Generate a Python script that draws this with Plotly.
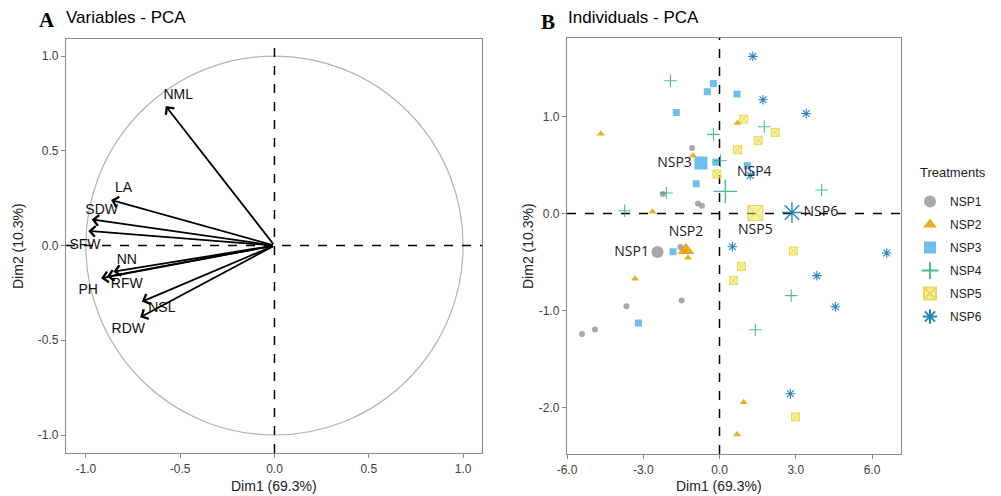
import plotly.graph_objects as go

# ---------------- Panel A: variables ----------------
variables = ["NML", "LA", "SDW", "SFW", "NN", "RFW", "PH", "NSL", "RDW"]
var_dim1 = [-0.576, -0.866, -0.969, -0.987, -0.854, -0.889, -0.919, -0.703, -0.712]
var_dim2 = [0.736, 0.240, 0.138, 0.077, -0.138, -0.165, -0.173, -0.296, -0.379]
var_label_x = [-0.51, -0.80, -0.916, -1.004, -0.783, -0.783, -0.987, -0.597, -0.775]
var_label_y = [0.79, 0.30, 0.184, 0.0, -0.08, -0.208, -0.238, -0.332, -0.442]

# ---------------- Panel B: individuals ----------------
groups = ["NSP1", "NSP2", "NSP3", "NSP4", "NSP5", "NSP6"]
nsp1_x = [-1.08, -2.23, -0.85, -0.69, -1.54, -1.49, -3.66, -5.41, -4.90]
nsp1_y = [0.675, 0.20, 0.104, 0.08, -0.345, -0.896, -0.957, -1.243, -1.195]
nsp2_x = [-4.67, -1.04, -2.64, -1.24, -3.32, 0.71, 0.95, 0.69, -1.35]
nsp2_y = [0.823, 0.596, 0.019, -0.456, -0.672, 0.933, -1.947, -2.28, -0.40]
nsp3_x = [-0.24, -0.48, -1.70, 0.69, -0.15, -0.92, 1.09, -1.83, -3.19]
nsp3_y = [1.34, 1.256, 1.042, 1.232, 0.53, 0.307, 0.493, -0.394, -1.13]
nsp4_x = [-1.93, -0.24, 0.04, -2.09, -3.73, 1.76, 4.02, 2.82, 1.41]
nsp4_y = [1.369, 0.816, 0.544, 0.211, 0.029, 0.895, 0.242, -0.847, -1.198]
nsp5_x = [-0.10, 0.95, 2.19, 1.52, 0.71, 2.91, 0.86, 0.55, 2.99]
nsp5_y = [0.407, 0.974, 0.836, 0.754, 0.658, -0.387, -0.545, -0.69, -2.098]
nsp6_x = [1.31, 1.71, 3.41, 1.21, 0.51, 6.58, 3.83, 4.56, 2.79]
nsp6_y = [1.62, 1.173, 1.032, 0.393, -0.342, -0.407, -0.641, -0.961, -1.858]
centroid_x = [-2.44, -1.32, -0.73, 0.23, 1.41, 2.85]
centroid_y = [-0.397, -0.38, 0.52, 0.228, 0.005, 0.011]

x_ticks_a = [-1.0, -0.5, 0.0, 0.5, 1.0]
y_ticks_a = [-1.0, -0.5, 0.0, 0.5, 1.0]
x_ticks_b = [-6.0, -3.0, 0.0, 3.0, 6.0]
y_ticks_b = [-2.0, -1.0, 0.0, 1.0]

group_x = [nsp1_x, nsp2_x, nsp3_x, nsp4_x, nsp5_x, nsp6_x]
group_y = [nsp1_y, nsp2_y, nsp3_y, nsp4_y, nsp5_y, nsp6_y]

colors = ["#999999", "#E69F00", "#56B4E9", "#009E73", "#F0E442", "#0072B2"]
symbols = ["circle", "triangle-up", "square", "cross-thin-open", "square-x", "asterisk-open"]
small_sizes = [6, 7, 7, 9, 8, 8]
big_sizes = [12, 15, 13, 17, 15, 17]
label_pos = ["middle left", "top center", "middle left", "top right", "bottom center", "middle right"]

W, H = 1001, 496
def px_x(a, b):
    return [a / W, b / W]
def px_y(top, bottom):
    return [1 - bottom / H, 1 - top / H]

fig = go.Figure()

# Panel A arrows (annotations in data coordinates)
annotations = []
for vx, vy in zip(var_dim1, var_dim2):
    annotations.append(dict(x=vx, y=vy, ax=0, ay=0, xref="x", yref="y",
                            axref="x", ayref="y", text="", showarrow=True,
                            arrowhead=4, arrowsize=1.15, arrowwidth=1.8,
                            arrowcolor="black"))

fig.add_trace(go.Scatter(x=var_label_x, y=var_label_y, text=variables, mode="text",
                         textfont=dict(family="Liberation Sans, Arial", size=14, color="#111111"),
                         showlegend=False, hoverinfo="skip", xaxis="x", yaxis="y"))

# Panel B points
def make_marker(i, size, lw):
    sym = symbols[i]
    if sym == "cross-thin-open":
        return dict(symbol=sym, size=size, color=colors[i],
                    line=dict(color=colors[i], width=lw), opacity=0.7)
    if sym == "asterisk-open":
        return dict(symbol=sym, size=size, color=colors[i],
                    line=dict(color=colors[i], width=lw), opacity=0.85)
    if sym == "square-x":
        return dict(symbol=sym, size=size, color="rgba(240,228,66,0.55)",
                    line=dict(color="rgba(225,212,60,0.9)", width=1), opacity=0.9)
    return dict(symbol=sym, size=size, color=colors[i], line=dict(width=0), opacity=0.85)

for i, g in enumerate(groups):
    fig.add_trace(go.Scatter(x=group_x[i], y=group_y[i], mode="markers", name=g,
                             legendgroup=g,
                             marker=make_marker(i, small_sizes[i], 1.1),
                             xaxis="x2", yaxis="y2"))

for i, g in enumerate(groups):
    fig.add_trace(go.Scatter(x=[centroid_x[i]], y=[centroid_y[i]], mode="markers+text",
                             text=[g], textposition=label_pos[i], legendgroup=g,
                             textfont=dict(family="Open Sans", size=14, color="#1a1a1a"),
                             marker=make_marker(i, big_sizes[i], 1.4),
                             showlegend=False, xaxis="x2", yaxis="y2"))

# Shapes: circle and dashed zero lines
shapes = [
    dict(type="circle", xref="x", yref="y", x0=-1, y0=-1, x1=1, y1=1,
         line=dict(color="#b3b3b3", width=1.2), layer="below"),
    dict(type="line", xref="x", yref="y domain", x0=0, x1=0, y0=0, y1=1,
         line=dict(color="black", width=1.5, dash="dash")),
    dict(type="line", xref="x domain", yref="y", x0=0, x1=1, y0=0, y1=0,
         line=dict(color="black", width=1.5, dash="dash")),
    dict(type="line", xref="x2", yref="y2 domain", x0=0, x1=0, y0=0, y1=1,
         line=dict(color="black", width=1.5, dash="dash"), layer="below"),
    dict(type="line", xref="x2 domain", yref="y2", x0=0, x1=1, y0=0, y1=0,
         line=dict(color="black", width=1.5, dash="dash"), layer="below"),
]

# Panel titles and axis titles
def paper_text(text, x, y, size, family, xanchor="left", angle=0, color="black"):
    return dict(text=text, x=x / W, y=1 - y / H, xref="paper", yref="paper",
                xanchor=xanchor, yanchor="middle", showarrow=False, textangle=angle,
                font=dict(family=family, size=size, color=color))

annotations += [
    paper_text("<b>A</b>", 37, 20, 21, "Liberation Serif"),
    paper_text("Variables - PCA", 64, 18, 17, "Liberation Sans, Arial"),
    paper_text("<b>B</b>", 539, 22, 21, "Liberation Serif"),
    paper_text("Individuals - PCA", 566, 18, 17, "Liberation Sans, Arial"),
    paper_text("Dim1 (69.3%)", 274, 486, 14, "Liberation Sans, Arial", "center", color="#222222"),
    paper_text("Dim1 (69.3%)", 719, 486, 14, "Liberation Sans, Arial", "center", color="#222222"),
    paper_text("Dim2 (10.3%)", 18, 246, 14, "Liberation Sans, Arial", "center", -90, color="#222222"),
    paper_text("Dim2 (10.3%)", 528, 246, 14, "Liberation Sans, Arial", "center", -90, color="#222222"),
    paper_text("Treatments", 918, 172, 13, "Liberation Sans, Arial", color="#222222"),
]

axis_common = dict(showline=True, linecolor="#8a8a8a", linewidth=1.3, mirror=True,
                   ticks="outside", ticklen=4, tickcolor="#8a8a8a", tickwidth=1.2,
                   showgrid=False, zeroline=False, automargin=False,
                   tickfont=dict(family="Liberation Sans, Arial", size=12, color="#404040"))

fig.update_layout(
    width=W, height=H,
    margin=dict(l=0, r=0, t=0, b=0, autoexpand=False),
    paper_bgcolor="white", plot_bgcolor="white",
    xaxis=dict(domain=px_x(66, 482), range=[-1.105, 1.10], tickvals=x_ticks_a,
               ticktext=[f"{v:.1f}" for v in x_ticks_a], anchor="y", **axis_common),
    yaxis=dict(domain=px_y(39, 453), range=[-1.095, 1.09], tickvals=y_ticks_a,
               ticktext=[f"{v:.1f}" for v in y_ticks_a], anchor="x", **axis_common),
    xaxis2=dict(domain=px_x(567, 901), range=[-6.0, 7.14], tickvals=x_ticks_b,
                ticktext=[f"{v:.1f}" for v in x_ticks_b], anchor="y2", **axis_common),
    yaxis2=dict(domain=px_y(38, 454), range=[-2.48, 1.81], tickvals=y_ticks_b,
                ticktext=[f"{v:.1f}" for v in y_ticks_b], anchor="x2", **axis_common),
    shapes=shapes,
    annotations=annotations,
    legend=dict(x=910 / W, y=1 - 187 / H, xanchor="left", yanchor="top",
                font=dict(family="Liberation Sans, Arial", size=12, color="#222222"),
                itemsizing="constant", bgcolor="rgba(0,0,0,0)", tracegroupgap=4),
    showlegend=True,
)

fig.write_html("out.html", config={"displayModeBar": False},
               post_script="document.body.style.margin='0px';document.body.style.overflow='hidden';")
